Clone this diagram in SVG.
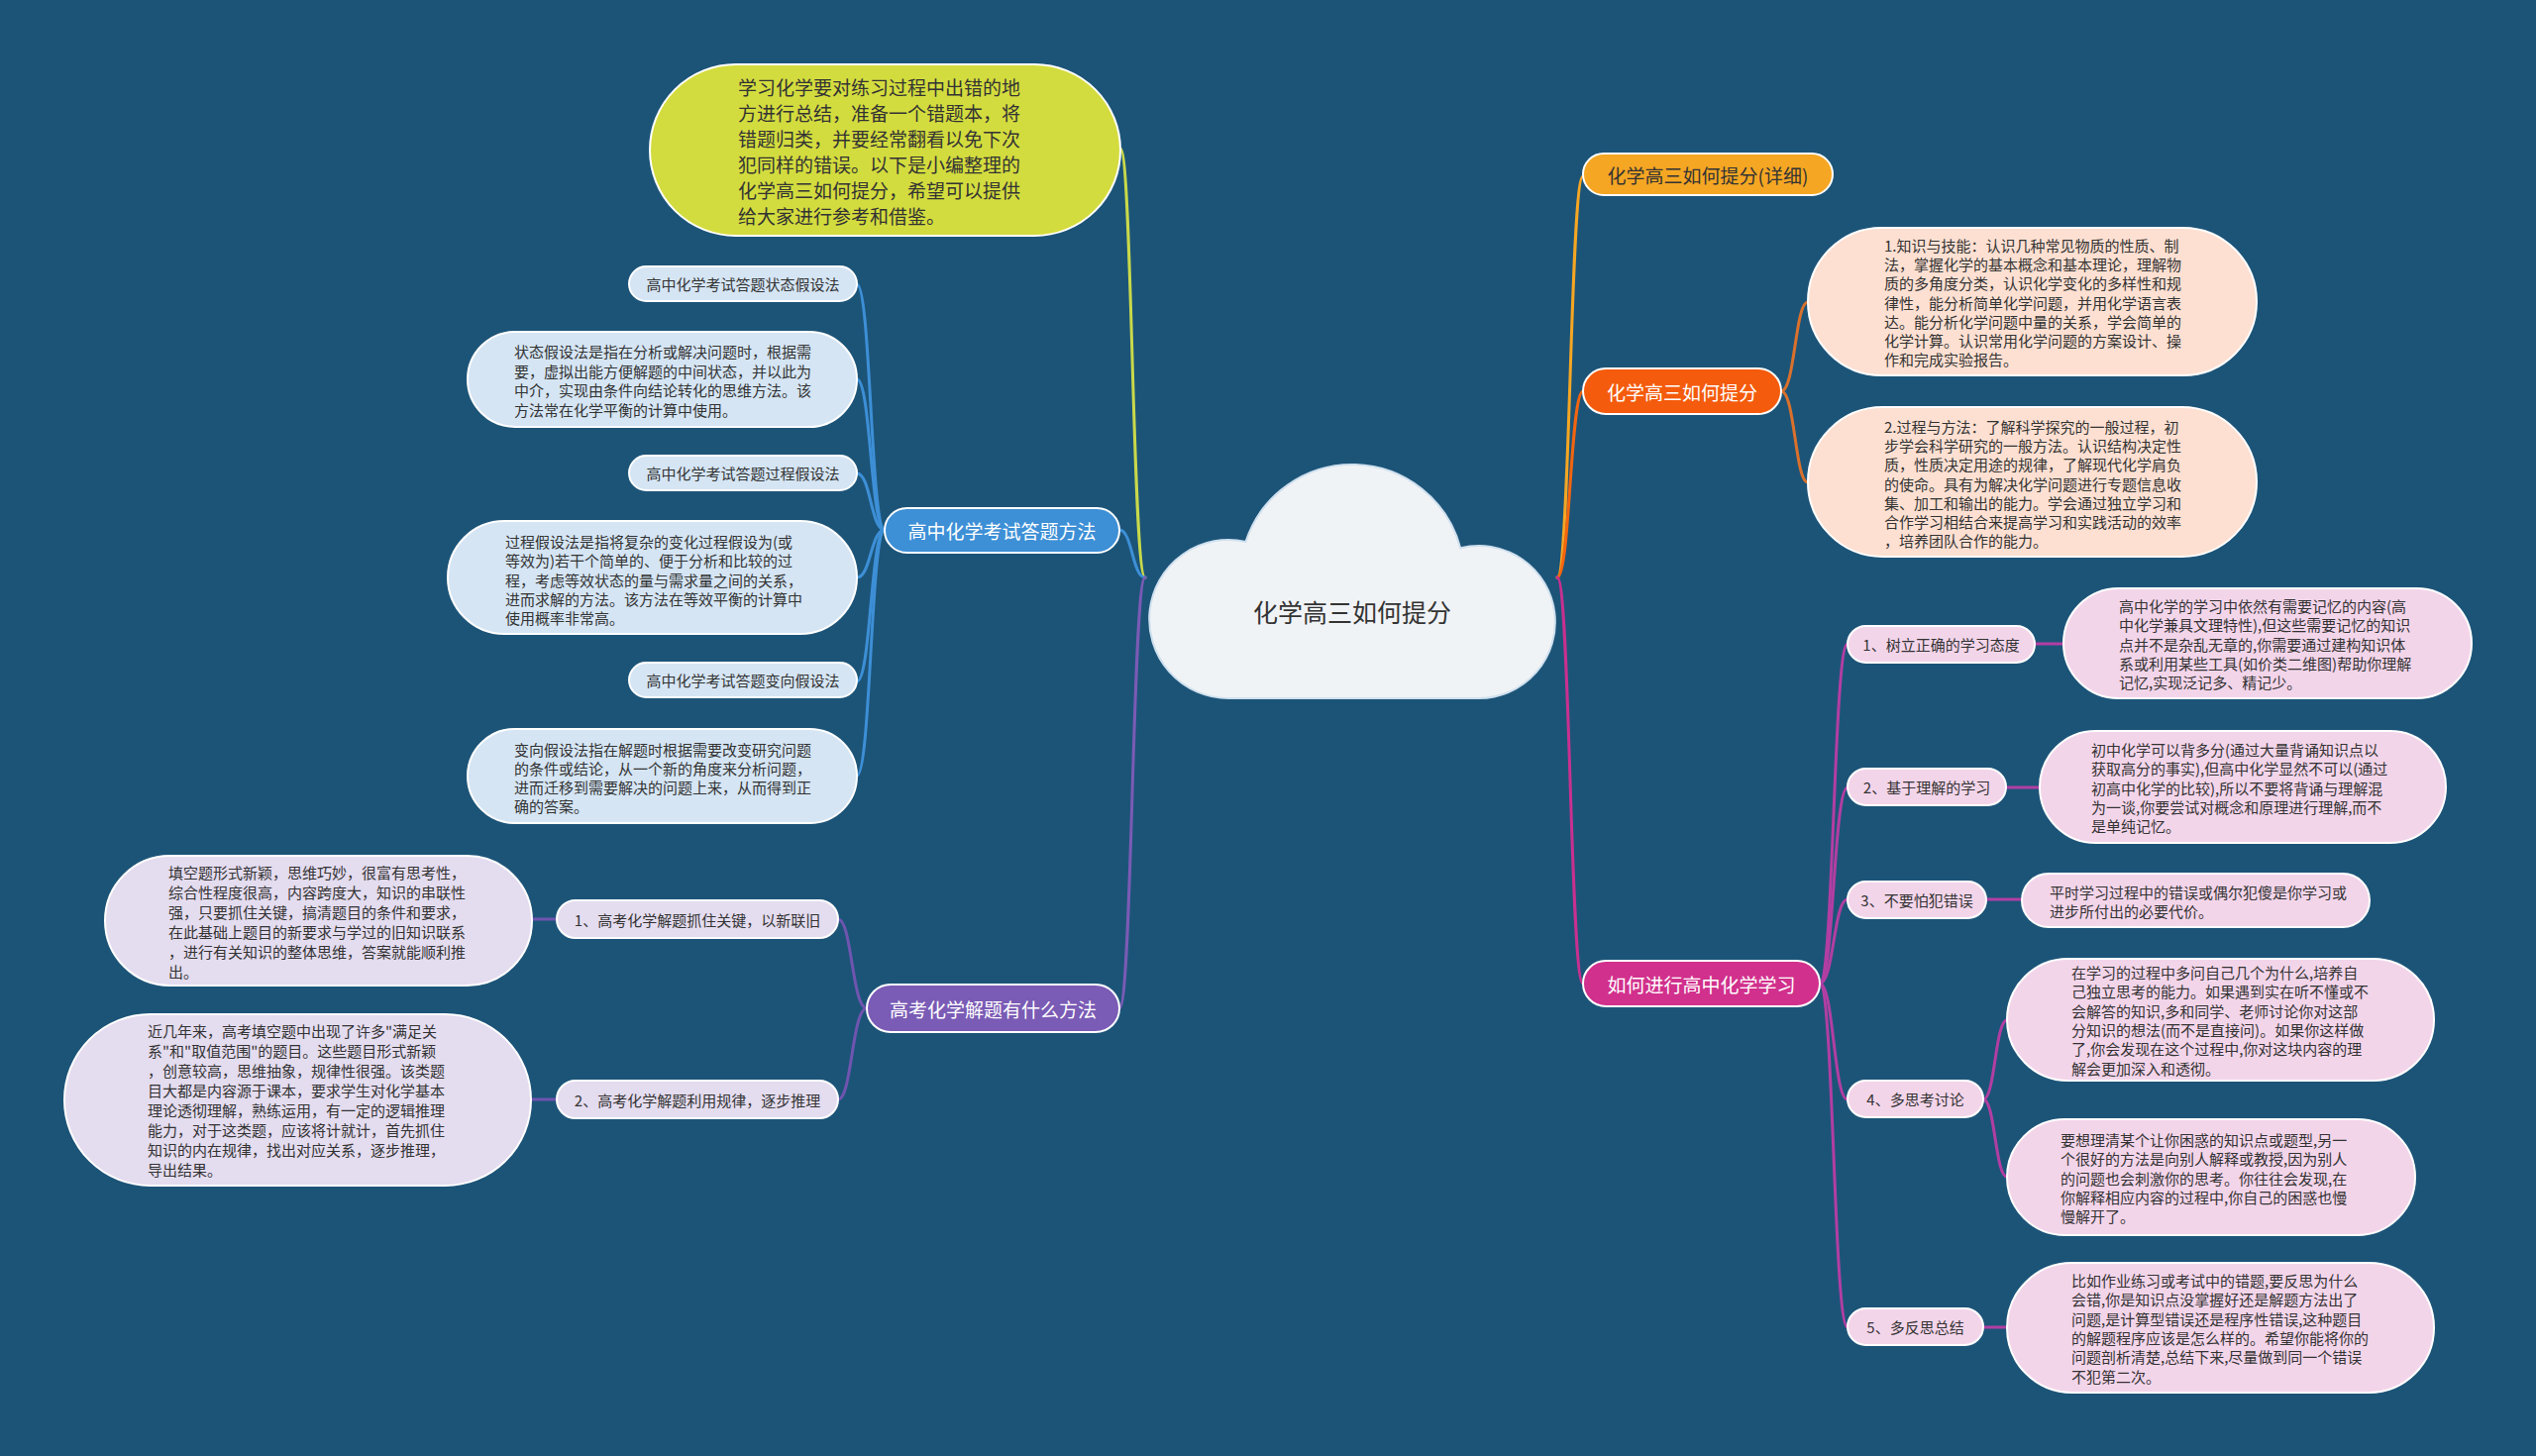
<svg xmlns="http://www.w3.org/2000/svg" width="2560" height="1470" viewBox="0 0 2560 1470">
<style>
text{font-family:"Noto Sans CJK SC","Noto Sans",sans-serif;dominant-baseline:central}
.c{fill:none;stroke-width:3;stroke-linecap:round}
.n{stroke:#ffffff;stroke-width:2}
.dk{fill:#333333}
.wt{fill:#ffffff}
.f15{font-size:15px}
.f19{font-size:19px}
.mid{text-anchor:middle}
</style>
<rect width="2560" height="1470" fill="#1c5478"/>
<g id="connectors">
  <path class="c" stroke="#c9d94a" d="M1156 583 C1143 583 1143 150 1131 150"/>
  <path class="c" stroke="#3d8fd6" d="M1156 583 C1143 583 1143 535 1130 535"/>
  <path class="c" stroke="#7a5bb5" d="M1156 583 C1143 583 1143 1018 1130 1018"/>
  <path class="c" stroke="#f5a623" d="M1572 583 C1585 583 1585 178 1598 178"/>
  <path class="c" stroke="#f2650f" d="M1572 583 C1585 583 1585 395 1598 395"/>
  <path class="c" stroke="#c8308f" d="M1572 583 C1585 583 1585 993 1598 993"/>
  <g stroke="#3d8fd6">
    <path class="c" d="M893 535 C879 535 879 287 865 287"/>
    <path class="c" d="M893 535 C879 535 879 383 865 383"/>
    <path class="c" d="M893 535 C879 535 879 478 865 478"/>
    <path class="c" d="M893 535 C879 535 879 583 865 583"/>
    <path class="c" d="M893 535 C879 535 879 688 865 688"/>
    <path class="c" d="M893 535 C879 535 879 783 865 783"/>
  </g>
  <g stroke="#6f55b0">
    <path class="c" d="M875 1018 C860 1018 860 928 846 928"/>
    <path class="c" d="M875 1018 C860 1018 860 1110 846 1110"/>
    <path class="c" d="M562 928 L537 928"/>
    <path class="c" d="M562 1110 L536 1110"/>
  </g>
  <g stroke="#d9712c">
    <path class="c" d="M1798 395 C1812 395 1812 305 1825 305"/>
    <path class="c" d="M1798 395 C1812 395 1812 487 1825 487"/>
  </g>
  <g stroke="#b23ea3">
    <path class="c" d="M1837 993 C1851 993 1851 650 1865 650"/>
    <path class="c" d="M1837 993 C1851 993 1851 795 1865 795"/>
    <path class="c" d="M1837 993 C1851 993 1851 908 1865 908"/>
    <path class="c" d="M1837 993 C1851 993 1851 1110 1865 1110"/>
    <path class="c" d="M1837 993 C1851 993 1851 1340 1865 1340"/>
    <path class="c" d="M2054 650 L2083 650"/>
    <path class="c" d="M2025 795 L2059 795"/>
    <path class="c" d="M2005 908 L2041 908"/>
    <path class="c" d="M2002 1110 C2014 1110 2014 1030 2026 1030"/>
    <path class="c" d="M2002 1110 C2014 1110 2014 1188 2026 1188"/>
    <path class="c" d="M2002 1340 L2026 1340"/>
  </g>
</g>

<g id="center">
  <path d="M1240 705 A80 80 0 1 1 1257.5 546.9 A113 113 0 0 1 1474.2 553.3 A77 77 0 1 1 1493 705 Z" fill="#f0f3f6" stroke="#cfe0ee" stroke-width="2"/>
  <text x="1365" y="617" class="dk mid" font-size="25">化学高三如何提分</text>
</g>

<g id="intro">
  <rect class="n" x="656" y="65" width="475" height="173" rx="86.5" fill="#d3dc3e"/>
  <text class="dk f19" x="745" y="87">
    <tspan x="745" y="87">学习化学要对练习过程中出错的地</tspan>
    <tspan x="745" y="113">方进行总结，准备一个错题本，将</tspan>
    <tspan x="745" y="139">错题归类，并要经常翻看以免下次</tspan>
    <tspan x="745" y="165">犯同样的错误。以下是小编整理的</tspan>
    <tspan x="745" y="191">化学高三如何提分，希望可以提供</tspan>
    <tspan x="745" y="217">给大家进行参考和借鉴。</tspan>
  </text>
</g>

<g id="b-exam">
  <rect class="n" x="893" y="513" width="237" height="45" rx="22.5" fill="#3d8fd6"/>
  <text class="wt f19 mid" x="1011.5" y="535.5">高中化学考试答题方法</text>
</g>
<g id="b-exam-1">
  <rect class="n" x="635" y="269" width="230" height="35" rx="17.5" fill="#d5e5f4"/>
  <text class="dk f15 mid" x="750" y="286.5">高中化学考试答题状态假设法</text>
</g>
<g id="b-exam-1d">
  <rect class="n" x="472" y="335" width="393" height="96" rx="48" fill="#d5e5f4"/>
  <text class="dk f15">
    <tspan x="519" y="354">状态假设法是指在分析或解决问题时，根据需</tspan>
    <tspan x="519" y="373.5">要，虚拟出能方便解题的中间状态，并以此为</tspan>
    <tspan x="519" y="393">中介，实现由条件向结论转化的思维方法。该</tspan>
    <tspan x="519" y="412.5">方法常在化学平衡的计算中使用。</tspan>
  </text>
</g>
<g id="b-exam-2">
  <rect class="n" x="635" y="460" width="230" height="35" rx="17.5" fill="#d5e5f4"/>
  <text class="dk f15 mid" x="750" y="477.5">高中化学考试答题过程假设法</text>
</g>
<g id="b-exam-2d">
  <rect class="n" x="452" y="526" width="413" height="114" rx="57" fill="#d5e5f4"/>
  <text class="dk f15">
    <tspan x="510" y="546">过程假设法是指将复杂的变化过程假设为(或</tspan>
    <tspan x="510" y="565.3">等效为)若干个简单的、便于分析和比较的过</tspan>
    <tspan x="510" y="584.6">程，考虑等效状态的量与需求量之间的关系，</tspan>
    <tspan x="510" y="603.9">进而求解的方法。该方法在等效平衡的计算中</tspan>
    <tspan x="510" y="623.2">使用概率非常高。</tspan>
  </text>
</g>
<g id="b-exam-3">
  <rect class="n" x="635" y="669" width="230" height="35" rx="17.5" fill="#d5e5f4"/>
  <text class="dk f15 mid" x="750" y="686.5">高中化学考试答题变向假设法</text>
</g>
<g id="b-exam-3d">
  <rect class="n" x="472" y="736" width="393" height="95" rx="47.5" fill="#d5e5f4"/>
  <text class="dk f15">
    <tspan x="519" y="755.5">变向假设法指在解题时根据需要改变研究问题</tspan>
    <tspan x="519" y="774.8">的条件或结论，从一个新的角度来分析问题，</tspan>
    <tspan x="519" y="794.1">进而迁移到需要解决的问题上来，从而得到正</tspan>
    <tspan x="519" y="813.4">确的答案。</tspan>
  </text>
</g>

<g id="b-method">
  <rect class="n" x="875" y="994" width="255" height="48" rx="24" fill="#7a5bb5"/>
  <text class="wt f19 mid" x="1002.5" y="1018">高考化学解题有什么方法</text>
</g>
<g id="b-method-1">
  <rect class="n" x="562" y="909" width="284" height="38" rx="19" fill="#e4dcef"/>
  <text class="dk f15 mid" x="704" y="928">1、高考化学解题抓住关键，以新联旧</text>
</g>
<g id="b-method-1d">
  <rect class="n" x="106" y="864" width="431" height="131" rx="65.5" fill="#e4dcef"/>
  <text class="dk f15">
    <tspan x="170" y="879.5">填空题形式新颖，思维巧妙，很富有思考性，</tspan>
    <tspan x="170" y="899.5">综合性程度很高，内容跨度大，知识的串联性</tspan>
    <tspan x="170" y="919.5">强，只要抓住关键，搞清题目的条件和要求，</tspan>
    <tspan x="170" y="939.5">在此基础上题目的新要求与学过的旧知识联系</tspan>
    <tspan x="170" y="959.5">，进行有关知识的整体思维，答案就能顺利推</tspan>
    <tspan x="170" y="979.5">出。</tspan>
  </text>
</g>
<g id="b-method-2">
  <rect class="n" x="562" y="1091" width="284" height="38" rx="19" fill="#e4dcef"/>
  <text class="dk f15 mid" x="704" y="1110">2、高考化学解题利用规律，逐步推理</text>
</g>
<g id="b-method-2d">
  <rect class="n" x="65" y="1024" width="471" height="173" rx="86.5" fill="#e4dcef"/>
  <text class="dk f15">
    <tspan x="149" y="1040">近几年来，高考填空题中出现了许多"满足关</tspan>
    <tspan x="149" y="1060">系"和"取值范围"的题目。这些题目形式新颖</tspan>
    <tspan x="149" y="1080">，创意较高，思维抽象，规律性很强。该类题</tspan>
    <tspan x="149" y="1100">目大都是内容源于课本，要求学生对化学基本</tspan>
    <tspan x="149" y="1120">理论透彻理解，熟练运用，有一定的逻辑推理</tspan>
    <tspan x="149" y="1140">能力，对于这类题，应该将计就计，首先抓住</tspan>
    <tspan x="149" y="1160">知识的内在规律，找出对应关系，逐步推理，</tspan>
    <tspan x="149" y="1180">导出结果。</tspan>
  </text>
</g>

<g id="b-detail">
  <rect class="n" x="1598" y="155" width="252" height="42" rx="21" fill="#f5a623"/>
  <text class="dk f19 mid" x="1724" y="176">化学高三如何提分(详细)</text>
</g>

<g id="b-tifen">
  <rect class="n" x="1598" y="372" width="200" height="46" rx="23" fill="#f45b0c"/>
  <text class="wt f19 mid" x="1698" y="395">化学高三如何提分</text>
</g>
<g id="b-tifen-1">
  <rect class="n" x="1825" y="230" width="453" height="149" rx="74.5" fill="#fde0d2"/>
  <text class="dk f15">
    <tspan x="1902" y="247">1.知识与技能：认识几种常见物质的性质、制</tspan>
    <tspan x="1902" y="266.2">法，掌握化学的基本概念和基本理论，理解物</tspan>
    <tspan x="1902" y="285.4">质的多角度分类，认识化学变化的多样性和规</tspan>
    <tspan x="1902" y="304.6">律性，能分析简单化学问题，并用化学语言表</tspan>
    <tspan x="1902" y="323.8">达。能分析化学问题中量的关系，学会简单的</tspan>
    <tspan x="1902" y="343">化学计算。认识常用化学问题的方案设计、操</tspan>
    <tspan x="1902" y="362.2">作和完成实验报告。</tspan>
  </text>
</g>
<g id="b-tifen-2">
  <rect class="n" x="1825" y="411" width="453" height="151" rx="75.5" fill="#fde0d2"/>
  <text class="dk f15">
    <tspan x="1902" y="430">2.过程与方法：了解科学探究的一般过程，初</tspan>
    <tspan x="1902" y="449.2">步学会科学研究的一般方法。认识结构决定性</tspan>
    <tspan x="1902" y="468.4">质，性质决定用途的规律，了解现代化学肩负</tspan>
    <tspan x="1902" y="487.6">的使命。具有为解决化学问题进行专题信息收</tspan>
    <tspan x="1902" y="506.8">集、加工和输出的能力。学会通过独立学习和</tspan>
    <tspan x="1902" y="526">合作学习相结合来提高学习和实践活动的效率</tspan>
    <tspan x="1902" y="545.2">，培养团队合作的能力。</tspan>
  </text>
</g>

<g id="b-study">
  <rect class="n" x="1598" y="970" width="239" height="46" rx="23" fill="#d1308c"/>
  <text class="wt f19 mid" x="1717.5" y="993">如何进行高中化学学习</text>
</g>
<g id="s-1">
  <rect class="n" x="1865" y="632" width="189" height="37" rx="18.5" fill="#f3d5ea"/>
  <text class="dk f15 mid" x="1959.5" y="650.5">1、树立正确的学习态度</text>
</g>
<g id="s-1d">
  <rect class="n" x="2083" y="594" width="412" height="111" rx="55.5" fill="#f3d5ea"/>
  <text class="dk f15">
    <tspan x="2139" y="611">高中化学的学习中依然有需要记忆的内容(高</tspan>
    <tspan x="2139" y="630.3">中化学兼具文理特性),但这些需要记忆的知识</tspan>
    <tspan x="2139" y="649.6">点并不是杂乱无章的,你需要通过建构知识体</tspan>
    <tspan x="2139" y="668.9">系或利用某些工具(如价类二维图)帮助你理解</tspan>
    <tspan x="2139" y="688.2">记忆,实现泛记多、精记少。</tspan>
  </text>
</g>
<g id="s-2">
  <rect class="n" x="1865" y="776" width="160" height="37" rx="18.5" fill="#f3d5ea"/>
  <text class="dk f15 mid" x="1945" y="794.5">2、基于理解的学习</text>
</g>
<g id="s-2d">
  <rect class="n" x="2059" y="738" width="410" height="113" rx="56.5" fill="#f3d5ea"/>
  <text class="dk f15">
    <tspan x="2111" y="756">初中化学可以背多分(通过大量背诵知识点以</tspan>
    <tspan x="2111" y="775.3">获取高分的事实),但高中化学显然不可以(通过</tspan>
    <tspan x="2111" y="794.6">初高中化学的比较),所以不要将背诵与理解混</tspan>
    <tspan x="2111" y="813.9">为一谈,你要尝试对概念和原理进行理解,而不</tspan>
    <tspan x="2111" y="833.2">是单纯记忆。</tspan>
  </text>
</g>
<g id="s-3">
  <rect class="n" x="1865" y="890" width="140" height="37" rx="18.5" fill="#f3d5ea"/>
  <text class="dk f15 mid" x="1935" y="908.5">3、不要怕犯错误</text>
</g>
<g id="s-3d">
  <rect class="n" x="2041" y="882" width="351" height="54" rx="27" fill="#f3d5ea"/>
  <text class="dk f15">
    <tspan x="2069" y="899.5">平时学习过程中的错误或偶尔犯傻是你学习或</tspan>
    <tspan x="2069" y="918.8">进步所付出的必要代价。</tspan>
  </text>
</g>
<g id="s-4">
  <rect class="n" x="1865" y="1091" width="137" height="37" rx="18.5" fill="#f3d5ea"/>
  <text class="dk f15 mid" x="1933.5" y="1109.5">4、多思考讨论</text>
</g>
<g id="s-4a">
  <rect class="n" x="2026" y="968" width="431" height="123" rx="61.5" fill="#f3d5ea"/>
  <text class="dk f15">
    <tspan x="2091" y="981">在学习的过程中多问自己几个为什么,培养自</tspan>
    <tspan x="2091" y="1000.3">己独立思考的能力。如果遇到实在听不懂或不</tspan>
    <tspan x="2091" y="1019.6">会解答的知识,多和同学、老师讨论你对这部</tspan>
    <tspan x="2091" y="1038.9">分知识的想法(而不是直接问)。如果你这样做</tspan>
    <tspan x="2091" y="1058.2">了,你会发现在这个过程中,你对这块内容的理</tspan>
    <tspan x="2091" y="1077.5">解会更加深入和透彻。</tspan>
  </text>
</g>
<g id="s-4b">
  <rect class="n" x="2026" y="1130" width="412" height="117" rx="58.5" fill="#f3d5ea"/>
  <text class="dk f15">
    <tspan x="2080" y="1150">要想理清某个让你困惑的知识点或题型,另一</tspan>
    <tspan x="2080" y="1169.3">个很好的方法是向别人解释或教授,因为别人</tspan>
    <tspan x="2080" y="1188.6">的问题也会刺激你的思考。你往往会发现,在</tspan>
    <tspan x="2080" y="1207.9">你解释相应内容的过程中,你自己的困惑也慢</tspan>
    <tspan x="2080" y="1227.2">慢解开了。</tspan>
  </text>
</g>
<g id="s-5">
  <rect class="n" x="1865" y="1321" width="137" height="37" rx="18.5" fill="#f3d5ea"/>
  <text class="dk f15 mid" x="1933.5" y="1339.5">5、多反思总结</text>
</g>
<g id="s-5d">
  <rect class="n" x="2026" y="1275" width="431" height="131" rx="65.5" fill="#f3d5ea"/>
  <text class="dk f15">
    <tspan x="2091" y="1292">比如作业练习或考试中的错题,要反思为什么</tspan>
    <tspan x="2091" y="1311.3">会错,你是知识点没掌握好还是解题方法出了</tspan>
    <tspan x="2091" y="1330.6">问题,是计算型错误还是程序性错误,这种题目</tspan>
    <tspan x="2091" y="1349.9">的解题程序应该是怎么样的。希望你能将你的</tspan>
    <tspan x="2091" y="1369.2">问题剖析清楚,总结下来,尽量做到同一个错误</tspan>
    <tspan x="2091" y="1388.5">不犯第二次。</tspan>
  </text>
</g>
</svg>
